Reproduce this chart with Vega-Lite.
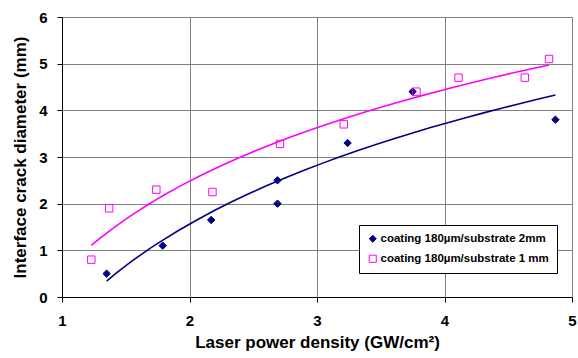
{
  "$schema": "https://vega.github.io/schema/vega-lite/v6.json",
  "width": 510,
  "height": 280,
  "autosize": "none",
  "padding": {"left": 62, "top": 17, "right": 6, "bottom": 61},
  "background": "white",
  "config": {
    "font": "Liberation Sans",
    "view": {"stroke": "#808080", "strokeWidth": 1},
    "axis": {
      "labelFont": "Liberation Sans",
      "labelFontWeight": "bold",
      "labelFontSize": 15,
      "labelColor": "black",
      "labelFlush": false,
      "titleFont": "Liberation Sans",
      "titleFontWeight": "bold",
      "titleFontSize": 17,
      "titleColor": "black",
      "domainColor": "black",
      "tickColor": "black",
      "gridColor": "#808080",
      "gridOpacity": 1,
      "gridWidth": 1
    }
  },
  "data": {
    "values": [
      {"series": "coating 180µm/substrate 2mm", "x": 1.35, "y": 0.5},
      {"series": "coating 180µm/substrate 2mm", "x": 1.79, "y": 1.1},
      {"series": "coating 180µm/substrate 2mm", "x": 2.17, "y": 1.65},
      {"series": "coating 180µm/substrate 2mm", "x": 2.69, "y": 2.5},
      {"series": "coating 180µm/substrate 2mm", "x": 2.69, "y": 2.0},
      {"series": "coating 180µm/substrate 2mm", "x": 3.24, "y": 3.3},
      {"series": "coating 180µm/substrate 2mm", "x": 3.75, "y": 4.4},
      {"series": "coating 180µm/substrate 2mm", "x": 4.87, "y": 3.8},
      {"series": "coating 180µm/substrate 1 mm", "x": 1.23, "y": 0.8},
      {"series": "coating 180µm/substrate 1 mm", "x": 1.37, "y": 1.9},
      {"series": "coating 180µm/substrate 1 mm", "x": 1.74, "y": 2.3},
      {"series": "coating 180µm/substrate 1 mm", "x": 2.18, "y": 2.25},
      {"series": "coating 180µm/substrate 1 mm", "x": 2.71, "y": 3.28},
      {"series": "coating 180µm/substrate 1 mm", "x": 3.21, "y": 3.7},
      {"series": "coating 180µm/substrate 1 mm", "x": 3.78, "y": 4.4},
      {"series": "coating 180µm/substrate 1 mm", "x": 4.11, "y": 4.7},
      {"series": "coating 180µm/substrate 1 mm", "x": 4.63, "y": 4.7},
      {"series": "coating 180µm/substrate 1 mm", "x": 4.82, "y": 5.1}
    ]
  },
  "layer": [
    {
      "transform": [
        {"filter": "datum.series === 'coating 180µm/substrate 2mm'"},
        {"regression": "y", "on": "x", "method": "log"}
      ],
      "mark": {"type": "line", "strokeWidth": 1.6, "color": "#000080"},
      "encoding": {
        "x": {"field": "x", "type": "quantitative"},
        "y": {"field": "y", "type": "quantitative"}
      }
    },
    {
      "transform": [
        {"filter": "datum.series === 'coating 180µm/substrate 1 mm'"},
        {"regression": "y", "on": "x", "method": "log"}
      ],
      "mark": {"type": "line", "strokeWidth": 1.6, "color": "#FF00FF"},
      "encoding": {
        "x": {"field": "x", "type": "quantitative"},
        "y": {"field": "y", "type": "quantitative"}
      }
    },
    {
      "mark": {"type": "point", "strokeWidth": 1, "opacity": 1},
      "encoding": {
        "x": {
          "field": "x", "type": "quantitative",
          "scale": {"domain": [1, 5], "nice": false, "zero": false},
          "axis": {"title": "Laser power density (GW/cm²)", "values": [1, 2, 3, 4, 5], "format": "d", "tickSize": 5, "labelPadding": 11, "titlePadding": 6, "grid": true}
        },
        "y": {
          "field": "y", "type": "quantitative",
          "scale": {"domain": [0, 6], "nice": false},
          "axis": {"title": "Interface crack diameter (mm)", "values": [0, 1, 2, 3, 4, 5, 6], "format": "d", "tickSize": 5, "labelPadding": 10, "titlePadding": 9, "grid": true}
        },
        "color": {
          "field": "series", "type": "nominal",
          "scale": {"domain": ["coating 180µm/substrate 2mm", "coating 180µm/substrate 1 mm"], "range": ["#000080", "#FF00FF"]},
          "legend": {
            "title": null,
            "orient": "none",
            "legendX": 297,
            "legendY": 208,
            "strokeColor": "black",
            "fillColor": "white",
            "padding": 8,
            "labelFont": "Liberation Sans",
            "labelFontSize": 11.5,
            "labelFontWeight": "bold",
            "labelColor": "black",
            "labelLimit": 300,
            "rowPadding": 7,
            "symbolStrokeWidth": 1,
            "symbolSize": 50,
            "labelOffset": 2
          }
        },
        "shape": {
          "field": "series", "type": "nominal",
          "scale": {"domain": ["coating 180µm/substrate 2mm", "coating 180µm/substrate 1 mm"], "range": ["diamond", "square"]}
        },
        "fill": {
          "field": "series", "type": "nominal",
          "scale": {"domain": ["coating 180µm/substrate 2mm", "coating 180µm/substrate 1 mm"], "range": ["#000080", "transparent"]}
        },
        "size": {"value": 55}
      }
    }
  ]
}
